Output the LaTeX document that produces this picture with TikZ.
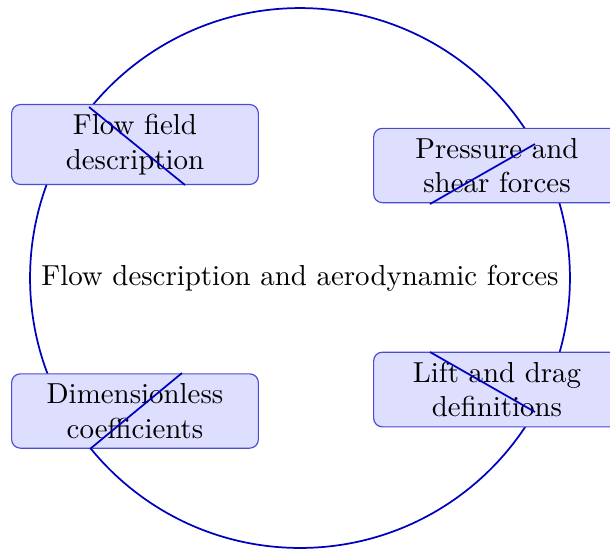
\documentclass[tikz,border=0pt]{standalone}
\usetikzlibrary{positioning}
\definecolor{darkblue}{rgb}{0.0, 0.0, 0.75}
\definecolor{boxfill}{rgb}{0.87, 0.87, 1.0}

\begin{document}
\begin{tikzpicture}[x=0.346pt,y=-0.346pt,
	topic/.style={draw=darkblue!70, fill=boxfill, rounded corners=3pt, text width=2.6cm, minimum width=3cm, align=center},
	ring/.style={draw=darkblue, semithick}]

\useasboundingbox (0,0) rectangle (610,548);

\node[circle, ring, inner sep=0pt, minimum size=186.8pt] (hub) at (300,278) {Flow description and aerodynamic forces};

\node[topic]    	(flow) at (135,144.5)      {Flow field description};
\node[topic]    	(press) at (497,165.5)     {Pressure and shear forces};
\node[topic]    	(coef) at (135,411)        {Dimensionless coefficients};
\node[topic]    	(lift) at (497,389.5)      {Lift and drag definitions};

\coordinate (f1) at (89,107);
\coordinate (f2) at (185,185);
\coordinate (p1) at (430,204);
\coordinate (p2) at (535,144);
\coordinate (c1) at (90,449);
\coordinate (c2) at (182,373);
\coordinate (l1) at (430,352);
\coordinate (l2) at (535,412);

\foreach \f/\t in {% start/end
	 f1/f2,
	 p1/p2,
	 c1/c2,
	 l1/l2}
	\path[ring]  (\f) edge (\t);

\end{tikzpicture}
\end{document}
